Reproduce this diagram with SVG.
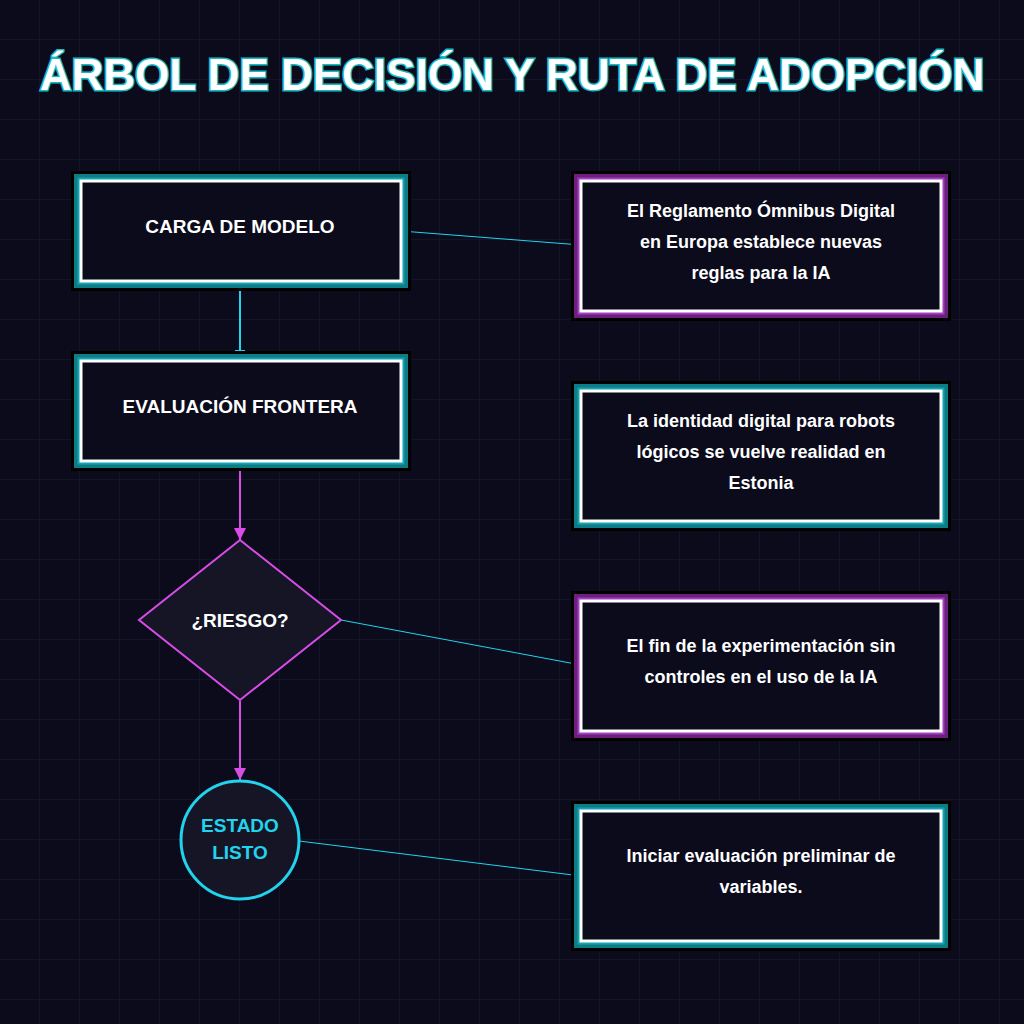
<svg xmlns="http://www.w3.org/2000/svg" width="1024" height="1024" viewBox="0 0 1024 1024">
<defs>
<pattern id="grid" width="40" height="40" patternUnits="userSpaceOnUse"><path d="M40 0V40H0" fill="none" stroke="#1b1b33" stroke-width="1"/></pattern>
<marker id="ah" viewBox="0 0 10 10" refX="10" refY="5" markerWidth="20" markerHeight="12" markerUnits="userSpaceOnUse" orient="auto"><path d="M0 0L10 5L0 10Z" fill="#d94ce8"/></marker>
<marker id="tee" viewBox="0 0 10 10" refX="5" refY="5" markerWidth="20" markerHeight="10" markerUnits="userSpaceOnUse" orient="auto"><path d="M5 0V10" stroke="#22d3ee" stroke-width="2"/></marker>
</defs>
<style>
text{font-family:"Liberation Sans",Arial,sans-serif;font-weight:bold;fill:#fff;text-anchor:middle}
.t{font-size:19px}
.b{font-size:18px}
.o{fill:none;stroke:#000;stroke-width:10}
.tc{fill:none;stroke:#0e7c86;stroke-width:6}
.tl{fill:none;stroke:#14a3b0;stroke-width:3}
.pc{fill:none;stroke:#6b1f7e;stroke-width:6}
.pl{fill:none;stroke:#a43fbe;stroke-width:3}
.w{fill:#0b0b1c;stroke:#fff;stroke-width:3}
.ln{fill:none;stroke:#22d3ee;stroke-width:1}
</style>
<rect width="1024" height="1024" fill="#0b0b1c"/>
<rect width="1024" height="1024" fill="url(#grid)"/>
<text x="512" y="90" font-size="44" style="fill:#fff;stroke:#1ab8c4;stroke-width:3;paint-order:stroke">ÁRBOL DE DECISIÓN Y RUTA DE ADOPCIÓN</text>
<g id="connectors">
<path d="M240 282V351" stroke="#22d3ee" stroke-width="2" marker-end="url(#tee)"/>
<path d="M240 462V540" stroke="#d94ce8" stroke-width="2" marker-end="url(#ah)"/>
<path d="M240 701V780" stroke="#d94ce8" stroke-width="2" marker-end="url(#ah)"/>
<path class="ln" d="M401 231L581 245"/>
<path class="ln" d="M341 620L581 665"/>
<path class="ln" d="M299 841L581 876"/>
</g>
<g id="carga"><rect class="o" x="76" y="176" width="330" height="110"/><rect class="tc" x="77" y="177" width="328" height="108"/><rect class="tl" x="79" y="179" width="324" height="104"/><rect class="w" x="81" y="181" width="320" height="100"/><text class="t" x="240" y="233">CARGA DE MODELO</text></g>
<g id="evaluacion"><rect class="o" x="76" y="356" width="330" height="110"/><rect class="tc" x="77" y="357" width="328" height="108"/><rect class="tl" x="79" y="359" width="324" height="104"/><rect class="w" x="81" y="361" width="320" height="100"/><text class="t" x="240" y="413">EVALUACIÓN FRONTERA</text></g>
<g id="riesgo"><path d="M240 540L341 620L240 700L139 620Z" fill="#151525" stroke="#d94ce8" stroke-width="2"/><text class="t" x="240" y="627">¿RIESGO?</text></g>
<g id="estado"><circle cx="240" cy="840" r="59" fill="#151525" stroke="#22d3ee" stroke-width="3"/><text class="t" x="240" y="832" style="fill:#22d3ee">ESTADO</text><text class="t" x="240" y="859" style="fill:#22d3ee">LISTO</text></g>
<g id="nota1"><rect class="o" x="576" y="176" width="370" height="140"/><rect class="pc" x="577" y="177" width="368" height="138"/><rect class="pl" x="579" y="179" width="364" height="134"/><rect class="w" x="581" y="181" width="360" height="130"/><text class="b" x="761" y="217">El Reglamento Ómnibus Digital</text><text class="b" x="761" y="248">en Europa establece nuevas</text><text class="b" x="761" y="279">reglas para la IA</text></g>
<g id="nota2"><rect class="o" x="576" y="386" width="370" height="140"/><rect class="tc" x="577" y="387" width="368" height="138"/><rect class="tl" x="579" y="389" width="364" height="134"/><rect class="w" x="581" y="391" width="360" height="130"/><text class="b" x="761" y="427">La identidad digital para robots</text><text class="b" x="761" y="458">lógicos se vuelve realidad en</text><text class="b" x="761" y="489">Estonia</text></g>
<g id="nota3"><rect class="o" x="576" y="596" width="370" height="140"/><rect class="pc" x="577" y="597" width="368" height="138"/><rect class="pl" x="579" y="599" width="364" height="134"/><rect class="w" x="581" y="601" width="360" height="130"/><text class="b" x="761" y="652">El fin de la experimentación sin</text><text class="b" x="761" y="683">controles en el uso de la IA</text></g>
<g id="nota4"><rect class="o" x="576" y="806" width="370" height="140"/><rect class="tc" x="577" y="807" width="368" height="138"/><rect class="tl" x="579" y="809" width="364" height="134"/><rect class="w" x="581" y="811" width="360" height="130"/><text class="b" x="761" y="862">Iniciar evaluación preliminar de</text><text class="b" x="761" y="893">variables.</text></g>
</svg>
